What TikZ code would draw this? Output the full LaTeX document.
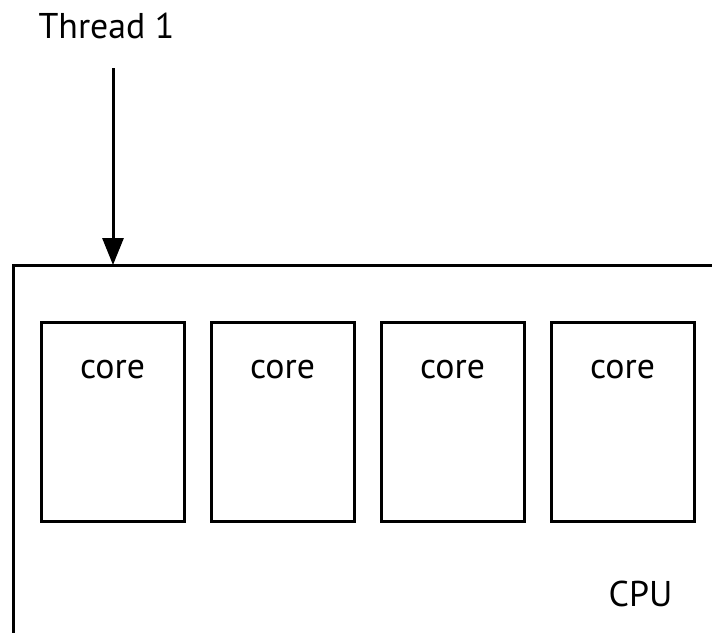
\documentclass[tikz,border=0pt]{standalone}
\usepackage{fontspec}
\setmainfont{PT Sans}
\usetikzlibrary{arrows.meta}

\begin{document}
\begin{tikzpicture}[x=0.5pt, y=-0.5pt, line cap=butt, line join=miter,
      >={Triangle[length=13.5pt,width=10.5pt]},
      font=\fontsize{17.9}{21}\selectfont,
      every node/.style={inner sep=0pt, outer sep=0pt}]
    \tikzset{
      corebox/.style={draw, line width=1.5pt, minimum width=71.5pt, minimum height=99.5pt},
      cpubox/.style={draw, line width=1.5pt, minimum width=380pt, minimum height=220pt, anchor=north west}
    }
    \useasboundingbox (0,0) rectangle (712,632);
    \clip (0,0) rectangle (712,632);
    % ==== the processor ====
    \node[cpubox] (cpu) at (13,265) {};
    \node[anchor=base] (cpulabel) at (640.5,606) {CPU};
    % ==== four cores ====
    \foreach \i in {1,...,4}{
      \node[corebox] (core\i) at ({112.5+170*(\i-1)},421.5) {};
      \node[anchor=base, yshift=-28pt] (corelabel\i) at (core\i.north) {core};
    }
    % ==== the thread ====
    \node[anchor=base] (thread) at (106.5,38) {Thread 1};
    \coordinate (threadstart) at (113,68);
    \draw[->, line width=1.5pt] (threadstart) -- (threadstart |- cpu.north);
\end{tikzpicture}
\end{document}
